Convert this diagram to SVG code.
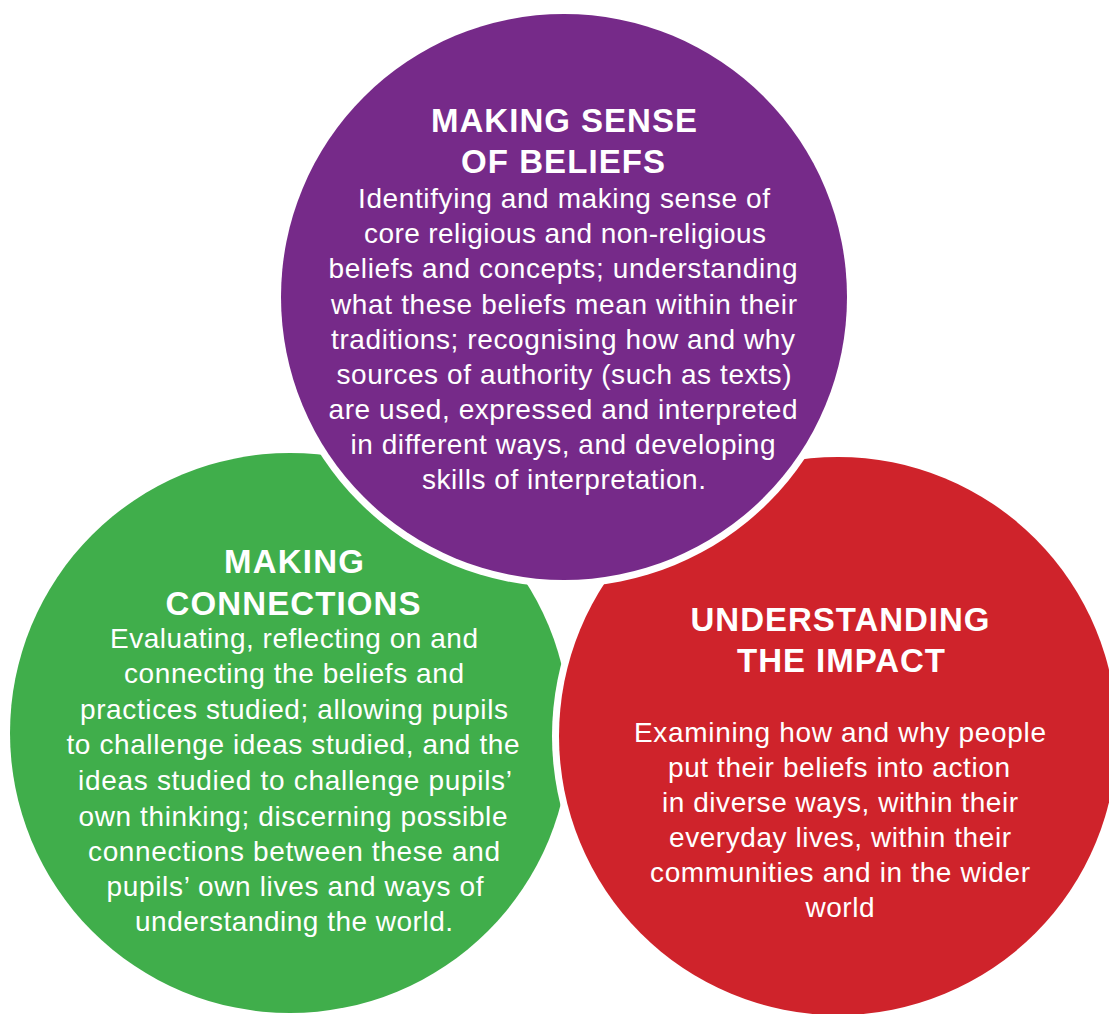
<svg xmlns="http://www.w3.org/2000/svg" width="1109" height="1014" viewBox="0 0 1109 1014">
<style>
.t{font-family:"Liberation Sans",Arial,sans-serif;font-weight:bold;font-size:33px;fill:#fff;text-anchor:middle}
.b{font-family:"Liberation Sans",Arial,sans-serif;font-size:28px;fill:#fff;text-anchor:middle}
.gap{fill:#fff}
</style>
<rect width="1109" height="1014" fill="#fff"/>
<g id="node-connections">
<circle cx="290" cy="733" r="280" fill="#40AE4B"/>
</g>
<g id="node-impact">
<circle class="gap" cx="838" cy="736" r="286"/>
<circle cx="838" cy="736" r="279" fill="#CF232B"/>
</g>
<g id="node-beliefs">
<circle class="gap" cx="564" cy="297" r="290"/>
<circle cx="564" cy="297" r="283" fill="#762A89"/>
</g>
<g id="text-beliefs">
<text class="t" x="564" y="132" textLength="266">MAKING SENSE</text>
<text class="t" x="563" y="173" textLength="204">OF BELIEFS</text>
<text class="b" x="564" y="208" textLength="412">Identifying and making sense of</text>
<text class="b" x="565" y="243" textLength="402">core religious and non-religious</text>
<text class="b" x="563" y="278" textLength="469">beliefs and concepts; understanding</text>
<text class="b" x="564" y="314" textLength="466">what these beliefs mean within their</text>
<text class="b" x="563" y="349" textLength="464">traditions; recognising how and why</text>
<text class="b" x="564" y="384" textLength="455">sources of authority (such as texts)</text>
<text class="b" x="563" y="419" textLength="469">are used, expressed and interpreted</text>
<text class="b" x="563" y="454" textLength="425">in different ways, and developing</text>
<text class="b" x="564" y="489" textLength="284">skills of interpretation.</text>
</g>
<g id="text-connections">
<text class="t" x="294" y="573" textLength="140">MAKING</text>
<text class="t" x="293" y="615" textLength="255">CONNECTIONS</text>
<text class="b" x="294" y="648" textLength="368">Evaluating, reflecting on and</text>
<text class="b" x="294" y="683" textLength="340">connecting the beliefs and</text>
<text class="b" x="294" y="719" textLength="428">practices studied; allowing pupils</text>
<text class="b" x="293" y="754" textLength="453">to challenge ideas studied, and the</text>
<text class="b" x="295" y="790" textLength="434">ideas studied to challenge pupils’</text>
<text class="b" x="293" y="826" textLength="429">own thinking; discerning possible</text>
<text class="b" x="294" y="861" textLength="412">connections between these and</text>
<text class="b" x="295" y="896" textLength="377">pupils’ own lives and ways of</text>
<text class="b" x="294" y="931" textLength="318">understanding the world.</text>
</g>
<g id="text-impact">
<text class="t" x="840" y="631" textLength="299">UNDERSTANDING</text>
<text class="t" x="841" y="672" textLength="208">THE IMPACT</text>
<text class="b" x="840" y="742" textLength="412">Examining how and why people</text>
<text class="b" x="839" y="777" textLength="342">put their beliefs into action</text>
<text class="b" x="840" y="812" textLength="356">in diverse ways, within their</text>
<text class="b" x="840" y="847" textLength="342">everyday lives, within their</text>
<text class="b" x="840" y="882" textLength="380">communities and in the wider</text>
<text class="b" x="840" y="917" textLength="69">world</text>
</g>
<g id="connectors"/>
</svg>
